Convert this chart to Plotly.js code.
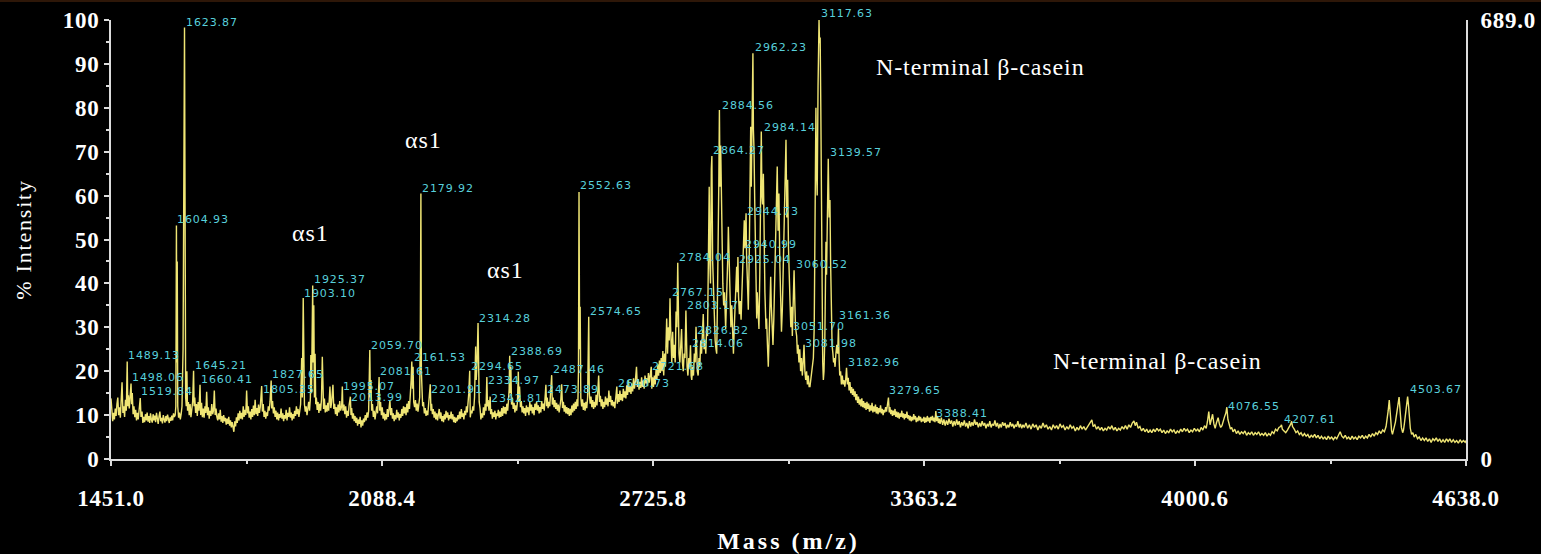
<!DOCTYPE html>
<html>
<head>
<meta charset="utf-8">
<script src="https://cdn.plot.ly/plotly-3.0.1.min.js"></script>
<style>
  html, body { margin: 0; padding: 0; background: #000; }
  #chart { width: 1541px; height: 554px; }
  .xtick text, .ytick text, .y2tick text { letter-spacing: 0.7px; }
  .xtitle { letter-spacing: 3px; }
  .ytitle { letter-spacing: 1.8px; }
  .annotation-text { letter-spacing: 0.9px; }
</style>
</head>
<body>
<div id="chart"></div>
<script>
// ---- Spectrum: [mass (m/z), % intensity] ----
const regionLow = [[1451,13.8],[1453,11],[1455,8.6],[1457,10.5],[1459,9],[1461,11.5],[1463,9.8],[1465,12.5],[1467,14],[1469,10],[1471,11.8],[1473,9.4],[1475,13],[1477,17.5],[1479,10.5],[1481,12],[1483,9.6],[1485,13.5],[1487,11],[1489.1,22.2],[1490.5,12],[1492,14.5],[1494,11.5],[1496,13.8],[1498.1,17.2],[1499.5,12.5],[1501,15],[1503,10.2],[1505,12],[1507,9.5],[1509,11.2],[1511,8.8],[1513,10.5],[1515,9],[1517,11],[1519.8,13.9],[1521.5,9.6],[1524,10.8],[1526,8.2],[1528,9.6],[1530,8.4],[1532,10.2],[1534,8.8],[1536,10.6],[1538,8.5],[1540,9.8],[1542,8.2],[1544,10.4],[1546,9],[1548,8.3],[1550,10.2],[1552,8.8],[1554,9.9],[1556,8.4],[1558,10.5],[1560,9.2],[1562,8],[1564,9.7],[1566,10.8],[1568,8.6],[1570,9.4],[1572,8.1],[1574,10],[1576,9],[1578,8.3],[1580,9.8],[1582,8.6],[1584,10.1],[1586,9],[1588,8.2],[1590,9.5],[1592,8.7],[1594,9.9],[1596,8.8],[1598,10.4],[1600,9.6],[1602,10],[1603.5,12],[1604.9,53.2],[1605.8,22],[1606.8,45],[1608,12],[1610,9.4],[1612,10.6],[1614,9],[1616,10.2],[1618,12],[1619.5,20],[1620.5,25],[1623.9,98.3],[1624.8,40],[1625.6,70.5],[1626.6,14],[1628,12],[1629.5,20],[1631,11],[1633,13],[1635,10],[1637,12.5],[1639,9.5],[1641,11.8],[1643,13],[1645.2,20.1],[1646.5,12],[1648,14],[1650,10.5],[1652,12.5],[1654,9.8],[1656,13],[1658,11],[1660.4,16.9],[1662,10],[1664,12.8],[1666,9.5],[1668,11.5],[1670,9.4],[1672,12],[1674,10.5],[1676,15.3],[1678,10],[1680,11.8],[1682,9.2],[1684,11],[1686,9.8],[1688,12.5],[1690,10.2],[1692,11],[1694,15.6],[1696,10],[1698,11.5],[1700,9.6]];

const regionAlphaA = [[1702,8.8],[1704,10.4],[1706,9],[1708,11.2],[1710,8.5],[1712,9.8],[1714,8.2],[1716,10],[1718,8.6],[1720,9.4],[1722,7.8],[1724,9.2],[1726,8],[1728,9.6],[1730,7.6],[1732,8.8],[1734,7.2],[1736,8.4],[1738,6.8],[1740,6.2],[1742,8.6],[1744,7.4],[1746,9.5],[1748,8.2],[1750,10.4],[1752,8.8],[1754,11],[1756,9.2],[1758,10.5],[1760,9],[1762,12],[1764,9.6],[1766,11.2],[1768,10],[1770,15.6],[1772,10.4],[1774,12],[1776,9.4],[1778,10.8],[1780,9],[1782,11.4],[1784,9.6],[1786,12.2],[1788,10],[1790,13.5],[1792,10.2],[1794,11.6],[1796,9.8],[1798,12.4],[1800,10.5],[1802,11.8],[1805.4,16.6],[1807,10.8],[1809,12.5],[1811,9.6],[1813,11],[1815,9.2],[1817,10.6],[1819,9.8],[1821,12],[1823,11],[1825,13],[1827.7,17.9],[1829,11.5],[1831,13.2],[1833,10.4],[1835,11.8],[1837,9.6],[1839,11],[1841,9],[1843,10.6],[1845,8.8],[1847,10.2],[1849,9.4],[1851,11.5],[1853,9.2],[1855,10.4],[1857,8.6],[1859,10],[1861,9.2],[1863,11.2],[1865,8.8],[1867,10.5],[1869,9.6],[1871,11.8],[1873,9.4],[1875,10.6],[1877,8.8],[1879,10.2],[1881,9.2],[1883,11],[1885,9.8],[1887,12],[1889,10.2],[1891,11.4],[1893,9.6],[1895,11],[1897,12.5],[1899.5,23],[1901,14],[1903.1,36.7],[1904.5,15],[1906,12.4],[1908,10.8],[1910,12],[1912,10],[1914,11.4],[1916,13],[1918,11],[1920,14],[1921,23.7],[1922.5,15],[1925.4,39.5],[1926.5,22],[1928,35],[1929.5,14],[1931,24],[1932.5,12.5],[1934,14],[1936,11.2],[1938,13],[1940,10.5],[1942,12.6],[1944,11],[1946,13.5],[1948,23.3],[1949.5,13],[1951,11.4],[1953,13.8],[1955,10.6],[1957,12.2],[1959,10.8],[1961,12.8],[1963,11],[1966,16.5],[1968,11.6],[1970,13],[1973,16.9],[1975,11.4],[1977,12.6],[1979,10.2],[1981,11.8],[1983,9.8],[1985,12.4],[1987,10.6],[1989,13.2],[1991,11],[1993.5,12],[1995.1,16.5],[1996.5,11],[1999,12.4]];

const regionAlphaB = [[2001,10.2],[2003,12],[2005,9.4],[2007,11],[2009,9.8],[2011,12.2],[2014,14.2],[2015.5,10],[2017,11.6],[2019,9.2],[2021,10.4],[2023,8.6],[2025,9.8],[2027,8.2],[2029,9.4],[2031,7.6],[2033,9],[2035,8],[2037,9.6],[2039,7.2],[2041,8.8],[2043,7.6],[2045,9.2],[2047,8.4],[2049,10],[2051,8.8],[2053,10.6],[2055,9.4],[2057,11],[2059.7,24.8],[2061,14],[2062.5,18],[2064,11],[2066,12.5],[2068,9.6],[2070,11],[2072,9],[2074,10.6],[2076,12],[2078,10.4],[2081.6,18.7],[2083,11],[2085,13],[2087,10],[2089,11.8],[2091,9.2],[2093,10.6],[2095,8.8],[2097,10.2],[2099,9],[2101,11.4],[2103,9.6],[2105,11],[2107,13.4],[2109,10],[2111,11.6],[2113,9.2],[2115,10.4],[2117,8.6],[2119,10],[2121,9],[2123,11.2],[2125,9.4],[2127,10.6],[2129,8.8],[2131,10.2],[2133,9.4],[2135,11.4],[2137,9.8],[2139,12],[2141,10.4],[2143,11.8],[2145,10],[2147,12.6],[2149,10.6],[2151,13.2],[2153,11.4],[2155,14],[2157,18],[2158.5,22.2],[2160,16],[2161.5,21],[2163,13],[2165,11.8],[2167,13.4],[2169,11],[2171,12.6],[2173,10.8],[2175,12],[2177,14],[2178.6,30],[2179.9,60.5],[2181,20],[2182.5,15],[2184,12],[2186,13],[2188,10.4],[2190,11.6],[2192,9.8],[2194,11],[2196,10],[2198,12.4],[2201.9,17],[2203.5,11],[2205,12.6],[2207,10.2],[2209,11.4],[2211,9.4],[2213,10.8],[2215,9],[2217,10.4],[2219,8.8],[2221,10],[2223,11.4],[2225,9.2],[2227,10.6],[2229,8.6],[2231,9.8],[2233,8.4],[2235,10.2],[2237,9],[2239,11],[2241,9.4],[2243,10.6],[2245,8.8],[2247,10],[2249,9.2],[2251,10.8],[2253,9],[2255,10.2],[2257,8.4],[2259,9.6],[2261,8.2],[2263,9.4],[2265,8.6],[2267,10],[2269,9],[2271,10.8],[2273,9.2],[2275,11.4],[2277,9.6],[2279,10.4],[2281,9],[2283,11],[2285,10],[2287,12],[2289,10.6],[2291,13],[2292.5,15],[2294.7,20.1],[2296,9.5],[2298,11],[2300,10.4]];

const regionAlphaC = [[2302,12],[2304,11],[2306,14],[2308.7,25.6],[2310,18],[2312,22],[2314.3,31],[2315.5,23.6],[2317,13],[2319,11.6],[2321,9],[2323,10.4],[2325,9.4],[2327,11.8],[2329,10],[2331,12.6],[2333,11],[2335,18.7],[2336.5,12],[2338,13.4],[2340,11],[2342.8,14.2],[2344,10.2],[2346,11.4],[2348,9.2],[2350,10.6],[2352,9.6],[2354,11],[2356,9],[2358,10.4],[2360,9.8],[2362,11.2],[2364,9.4],[2366,10.8],[2368,9.6],[2370,11.6],[2372,9.8],[2374,12],[2376,10.4],[2378,11.8],[2380,10.2],[2382,12.6],[2384,11],[2386,13.5],[2387.5,16],[2388.7,23.5],[2390,15],[2391.5,21],[2393,12.4],[2395,14],[2397,11.4],[2399,12.8],[2401,10.6],[2403,12.2],[2405,11],[2407,13],[2409,19.9],[2410.5,13],[2412,16.5],[2414,11.8],[2416,13.2],[2418,10.6],[2420,12],[2422,10.4],[2424,11.6],[2426,9.8],[2428,12.2],[2430,10.6],[2432,11.8],[2434,10],[2436,13],[2438,11],[2440,12.4],[2442,10.4],[2444,11.8],[2446,10],[2448,12.6],[2450,11.2],[2452,13],[2454,11],[2456,12.2],[2458,10.4],[2460,11.8],[2462,10.6],[2464,13.2],[2466,11.4],[2468,12.6],[2470,11],[2472,13.4],[2473.9,16.9],[2475.5,12],[2477,14],[2479,11.6],[2481,13],[2483,12],[2485,15],[2487.5,19.1],[2489,12.4],[2491,14],[2493,11.8],[2495,13.4],[2497,11.4],[2499,12.8],[2501,11],[2503,12.4],[2505,10.6],[2507,12],[2509,13.5],[2511,17],[2513,11.6],[2515,13],[2517,10.8],[2519,12.2],[2521,10.4],[2523,11.8],[2525,10.2],[2527,11.6],[2529,9.8],[2531,11.4],[2533,10],[2535,12.2],[2537,10.6],[2539,12.6],[2541,11],[2543,13],[2545,11.4],[2547,13.6],[2549,12]];

const regionRise = [[2550.5,20],[2551.8,60.8],[2553.2,25],[2554.5,34.7],[2556,14],[2558,12],[2560,13.6],[2562,11.2],[2564,12.8],[2566,11],[2568,13],[2570,11.6],[2572,14],[2574.6,32.4],[2576,15],[2578,12.6],[2580,14.2],[2582,11.8],[2584,13.4],[2586,11.4],[2588,13],[2590,11.8],[2592,14.6],[2594,12.2],[2596,15.4],[2598,19],[2600,13],[2602,14.4],[2604,12],[2606,13.6],[2608,11.4],[2610,13],[2612,11.8],[2614,14.2],[2616,12.4],[2618,13.8],[2620,12],[2622,15.6],[2624,13],[2626,14.4],[2628,12.2],[2630,13.4],[2632,12],[2634,13],[2636,11.6],[2638,13.8],[2640.7,16.5],[2642,12.6],[2644,14.8],[2646,13],[2648,15.6],[2650,13.4],[2652,14.8],[2654,13.2],[2656,16],[2658,14],[2660,15.4],[2662,13.8],[2664,16.8],[2666,14.6],[2668,18],[2670,15.2],[2672,16.6],[2674,14.8],[2676,17.2],[2678,15.4],[2680,18.4],[2682,16],[2684,17.4],[2687,21],[2689,16.4],[2691,18.2],[2693,15.8],[2695,17.6],[2697,16.2],[2699,18.6],[2701,16.4],[2703,17.8],[2705,16],[2707,19],[2709,17.2],[2711,18.4],[2713,16.6],[2715,19.6],[2717,17.4],[2719,18.8],[2721.7,21],[2723,16],[2725,18.6],[2727,16.4],[2729,19],[2731,17],[2733,20.4],[2735,18.2],[2737,21.6],[2739,19],[2741,22.4],[2743,19.6],[2745,23],[2747,20],[2749,24.6]];

const regionBetaCluster = [[2751,19],[2753,24],[2755,21],[2757,28],[2758,32],[2760,24],[2762,30],[2764,27],[2765.8,36.6],[2767.2,30],[2768.5,24],[2770,22],[2772,29],[2774,23],[2776,26],[2778,22],[2780,33.6],[2782,30],[2784,44.7],[2785.5,30],[2787,24],[2789,22],[2791,25],[2793,29.6],[2795,22],[2797,20],[2799,24],[2801,23],[2803.2,33.8],[2804.5,24],[2806,21],[2808,19],[2810,23],[2812,21],[2814,25.9],[2815.5,19],[2817,18],[2819,21],[2821,19],[2823,24],[2825,22],[2827,30.1],[2828.5,24],[2830,20],[2832,19],[2834,23],[2836,21],[2838,27],[2840,24],[2842,29],[2844,33],[2846,25],[2848,27],[2850,24],[2852,30],[2854,28],[2856,40],[2858,62],[2859.5,45],[2861,40],[2863,66],[2864.3,69],[2866,45.3],[2868,38],[2870,31],[2872,27],[2874,25],[2875.6,24],[2877,33],[2879,45],[2880.5,62],[2882,79.5],[2883.5,62],[2885,71.4],[2886.5,60],[2888,51.4],[2890,40],[2892,35],[2894,38],[2896.7,29.6],[2898,33],[2900,40],[2902,47],[2903,52.9],[2905,44],[2907,34],[2909,30],[2911,35],[2913,28],[2915,24],[2917,30],[2919,35],[2921,40],[2922.6,43.8],[2924,38],[2925.5,46],[2927,37],[2929,33],[2931,36],[2933,31.7],[2935,38],[2937,44],[2939,50],[2940.5,54.4],[2942,48],[2944.7,56],[2946,46],[2948,38],[2950,34],[2952,45],[2954,60],[2955.6,75.7],[2957,62],[2959,80],[2960.8,92.4],[2962,75],[2963.5,70],[2965,59],[2967,45],[2969.7,32],[2971,38],[2973,35],[2975,29.6],[2977,42],[2979,60],[2980.5,74.6],[2982,60],[2983.5,58],[2985.4,65],[2987,48],[2989,38],[2991.6,29.6],[2993,32],[2995,26],[2997,21],[2999,28],[3001,35],[3002.6,41.5],[3004,35],[3006,30],[3008,26],[3010,32],[3012,40],[3014,50],[3016,58],[3018,66.6],[3020,52],[3022,60.5],[3024,45],[3026,36],[3028,29],[3030,34],[3032,42],[3034,50],[3036,60],[3038.6,72.7],[3040.5,55],[3042.5,63.6],[3044.5,48],[3046,40],[3048,36],[3050,30],[3052,34.7],[3053.5,28],[3055.5,36],[3057.6,43],[3059.5,35],[3061,30],[3063.7,28],[3065.5,24],[3067,26],[3069,22],[3071,25],[3073,20],[3075,23],[3077,19],[3079,22],[3081,26],[3083,20],[3085,18],[3087,20],[3089,17],[3091,19],[3093,16.5],[3095,16.5],[3097,18],[3099,20],[3101,21],[3103,23],[3105,30],[3107,50],[3109,80],[3110.5,65],[3112,60],[3114,85],[3116.3,100],[3117.5,94.7],[3119,96],[3120.5,80],[3122,58],[3123.5,35],[3125,22],[3126.5,18],[3128,20],[3130,28],[3132.6,49.5],[3134,42],[3136,58],[3138,68.4],[3140,55],[3142,59],[3143.5,45],[3145,31],[3147,26],[3149,24],[3150.5,22],[3152,23],[3154,21],[3156,24],[3158,26],[3160,24],[3162,29.7],[3163.5,23],[3165,19],[3167,20],[3169,17],[3171,19],[3173,17],[3175,18],[3177,16.5],[3179,18],[3181,20.8],[3183,17],[3185,18.5],[3187,15.6],[3189,17.5],[3191,15],[3193,16.4],[3195,14.6],[3197,16],[3199,14.2]];

const regionDecay = [[3201,15.4],[3203,13.4],[3205,14.8],[3207,12.8],[3209,14.2],[3211,12.4],[3213,13.6],[3215,12],[3217,13.8],[3219,11.8],[3221,13.2],[3223,11.6],[3225,12.8],[3227,11.2],[3229,13],[3231,11.4],[3233,12.6],[3235,10.8],[3237,12.2],[3239,11],[3241,12.8],[3243,10.6],[3245,12],[3247,10.8],[3249,12.4],[3251,10.4],[3253,11.8],[3255,10.2],[3257,11.6],[3259,10.6],[3261,12.2],[3263,10.4],[3265,11.4],[3267,10],[3269,11.2],[3271,10.6],[3273,11.8],[3275,10.8],[3277,12.2],[3279.6,14],[3281.5,10.6],[3283,11.8],[3285,10.2],[3287,11.2],[3289,9.8],[3291,11],[3293,10],[3295,11.4],[3297,9.6],[3299,10.8],[3301,9.4],[3303,10.6],[3305,9.2],[3307,10.4],[3309,9.6],[3311,11],[3313,9.4],[3315,10.4],[3317,9],[3319,10.2],[3321,9.4],[3323,10.8],[3325,9.2],[3327,10],[3329,8.8],[3331,9.8],[3333,8.6],[3335,9.6],[3337,8.8],[3339,10.2],[3341,9],[3343,9.8],[3345,8.4],[3347,9.4],[3349,8.6],[3351,9.8],[3353,8.8],[3355,9.6],[3357,8.4],[3359,9.2],[3361,8.6],[3363,9.6],[3365,8.2],[3367,9.4],[3369,8.4],[3371,9.8],[3373,8.6],[3375,9.4],[3377,8.2],[3379,9.6],[3381,8.8],[3383,9.8],[3385,8.6],[3387,9.4],[3389,8.4],[3391,10.9],[3393,8.6],[3395,9.8],[3397,8.2],[3399,9.2],[3401,8],[3404,9.4],[3407,7.8],[3410,9],[3413,7.6],[3416,8.8],[3419,7.8],[3422,9.2],[3425,8],[3428,8.8],[3431,7.4],[3434,8.6],[3437,7.6],[3440,9],[3443,7.8],[3446,8.6],[3449,7.2],[3452,8.4],[3455,7.6],[3458,8.8],[3461,7.4],[3464,8.2],[3467,7],[3470,8.6],[3473,7.4],[3476,8.4],[3479,7.6],[3482,9],[3485,7.8],[3488,8.4],[3491,7.2],[3494,8.2],[3497,7.4],[3500,8.6],[3503,7.6],[3506,8.2],[3509,7],[3512,8],[3515,7.4],[3518,8.6],[3521,7.2],[3524,8],[3527,7.6],[3530,8.8],[3533,7.4],[3536,8.2],[3539,7],[3542,8],[3545,7.2],[3548,8.4],[3551,7.6],[3554,8.2],[3557,7],[3560,7.8],[3563,7.2],[3566,8.4],[3569,7.4],[3572,8],[3575,7],[3578,7.8],[3581,7.4],[3584,8.6],[3587,7.2],[3590,8],[3593,7],[3596,7.8],[3599,7.2]];

const regionTailA = [[3603,8.2],[3607,7],[3611,7.8],[3615,6.8],[3619,8],[3623,7.2],[3627,7.8],[3631,6.6],[3635,7.6],[3639,7],[3643,8.2],[3647,7.2],[3651,7.8],[3655,6.8],[3659,7.4],[3663,6.6],[3667,7.8],[3671,7],[3675,7.6],[3679,6.8],[3683,8],[3687,7.2],[3691,7.6],[3695,6.6],[3699,7.4],[3703,6.8],[3707,7.8],[3711,7],[3715,7.4],[3719,6.4],[3723,7.2],[3727,6.6],[3731,7.6],[3735,6.8],[3739,7.4],[3743,6.6],[3747,7.2],[3751,7.8],[3755,8.4],[3758,8.9],[3761,7.4],[3765,7.8],[3769,6.8],[3773,7.4],[3777,6.6],[3781,7.2],[3785,6.4],[3789,7],[3793,6.6],[3797,7.4],[3801,6.8],[3805,7.6],[3809,6.6],[3813,7.2],[3817,6.4],[3821,7],[3825,6.6],[3829,7.4],[3833,6.8],[3837,7.6],[3841,6.8],[3845,7.8],[3849,7.2],[3853,8.2],[3857,8.7],[3860,7.6],[3863,8.4],[3867,7],[3871,7.4],[3875,6.4],[3879,7],[3883,6.2],[3887,6.8],[3891,6],[3895,6.6],[3899,6],[3903,6.8],[3907,6.2],[3911,7],[3915,6.4],[3919,6.8],[3923,6],[3927,6.6],[3931,5.8],[3935,6.4],[3939,6],[3943,6.8],[3947,6.2],[3951,6.6],[3955,5.8],[3959,6.4],[3963,6],[3967,6.8],[3971,6.2],[3975,7],[3979,6.4],[3983,6.8],[3987,6],[3991,6.6],[3995,6.2],[3999,7],[4003,6.4],[4007,6.8],[4011,6.2],[4015,7.2],[4019,6.6],[4023,7.6],[4027,7],[4030,8.6],[4033,10.8],[4036,7.8],[4039,9.4],[4042,10.2],[4045,8],[4048,7],[4051,8.2],[4055,9.4],[4058,8],[4061,7.2],[4064,7.6],[4067,8.8],[4070,9.6],[4073,10.4],[4075.5,11.8],[4078,9],[4081,7.6],[4084,6.8],[4087,7.2],[4090,6.2],[4094,6.8],[4098,5.8],[4102,6.4],[4106,5.6],[4110,6.2],[4114,5.8],[4118,6.4],[4122,5.4],[4126,6],[4130,5.6],[4134,6.2],[4138,5.4],[4142,6],[4146,5.6],[4150,6.2],[4154,5.4],[4158,5.8],[4162,5.4],[4166,6],[4170,5.2],[4174,5.8],[4178,5.4],[4182,6.2],[4186,5.8],[4190,6.8],[4194,6.4],[4198,7.2]];

const regionTailB = [[4202,7.4],[4204,7.8],[4206,6.8],[4210,6.4],[4214,6],[4218,6.6],[4222,7.2],[4226,8],[4228,8.6],[4230,7.4],[4234,6.8],[4238,6],[4242,6.4],[4246,5.6],[4250,6],[4254,5.2],[4258,5.8],[4262,5.2],[4266,5.6],[4270,4.8],[4274,5.4],[4278,5],[4282,5.6],[4286,4.8],[4290,5.4],[4294,4.6],[4298,5.2],[4302,4.6],[4306,5],[4310,4.4],[4314,5.2],[4318,4.6],[4322,5],[4326,4.4],[4330,5],[4334,4.6],[4338,5.4],[4342,6.2],[4346,5.2],[4350,4.8],[4354,5.4],[4358,4.6],[4362,5],[4366,4.4],[4370,5.2],[4374,4.6],[4378,5],[4382,4.4],[4386,5.2],[4390,4.8],[4394,5.4],[4398,4.6],[4402,5.2],[4406,4.8],[4410,5.6],[4414,5],[4418,5.8],[4422,5.2],[4426,6],[4430,5.6],[4434,6.4],[4438,5.8],[4442,6.6],[4446,6.2],[4450,7.4],[4453,9],[4455,11],[4457.5,13.4],[4460,9],[4463,6.4],[4465,5.6],[4467,6.2],[4470,7.6],[4472,8.4],[4475,10.6],[4478,12.5],[4480.6,14.1],[4483,11],[4486,7.2],[4489,6],[4491,6.6],[4493,8],[4495,9.6],[4497,12],[4500.7,14.2],[4503,12],[4505,9],[4507,7],[4510,5.6],[4513,6],[4516,5],[4520,5.6],[4524,4.6],[4528,5],[4532,4.2],[4536,4.8],[4540,4.2],[4544,4.8],[4548,4],[4552,4.6],[4556,3.8],[4560,4.6],[4564,4.2],[4568,4.8],[4572,4],[4576,4.6],[4580,3.8],[4584,4.4],[4588,3.8],[4592,4.6],[4596,4],[4600,4.6],[4604,3.8],[4608,4.4],[4612,3.8],[4616,4.2],[4620,3.6],[4624,4.4],[4628,3.8],[4632,4.2],[4636,3.8],[4638,4.2]];

// ---- Peak labels (m/z text) and the % height at which each label sits ----
const peakLabels = ['1489.13','1498.06','1519.84','1604.93','1623.87','1645.21','1660.41','1805.35','1827.65','1903.10','1925.37','1995.07','2013.99','2059.70','2081.61','2161.53','2179.92','2201.91','2294.65','2314.28','2334.97','2342.81','2388.69','2473.89','2487.46','2552.63','2574.65','2640.73','2721.68','2767.15','2784.04','2803.17','2814.06','2826.82','2864.27','2884.56','2925.04','2940.99','2944.73','2962.23','2984.14','3051.70','3060.52','3081.98','3117.63','3139.57','3161.36','3182.96','3279.65','3388.41','4076.55','4207.61','4503.67'];
const peakLabelPct = [23.6,18.5,15.3,54.5,99.5,21.3,18.1,15.8,19.2,37.8,40.8,16.6,13.9,25.9,20,23.2,61.7,15.9,21.1,32.1,17.9,13.7,24.6,15.9,20.4,62.3,33.7,17.3,21.1,38,46,35,26.2,29.3,70.3,80.5,45.4,48.9,56.3,93.8,75.6,30.2,44.2,26.2,101.4,69.9,32.7,21.9,15.6,10.3,12,9,15.8];

// ---- Region captions ----
const captionText = ['\u03b1s1','\u03b1s1','\u03b1s1','N-terminal \u03b2-casein','N-terminal \u03b2-casein'];
const captionMass = [1921, 2187, 2380, 3496, 3912];
const captionPct = [51.5, 72.7, 43.0, 89.3, 22.3];

// ---- Axis ticks ----
const massTicks = [1451.0, 2088.4, 2725.8, 3363.2, 4000.6, 4638.0];
const massTickText = ['1451.0','2088.4','2725.8','3363.2','4000.6','4638.0'];
const massMinorTicks = [1769.7, 2407.1, 3044.5, 3681.9, 4319.3];
const countsMax = 689.0;

const spectrum = [].concat(regionLow, regionAlphaA, regionAlphaB, regionAlphaC, regionRise, regionBetaCluster, regionDecay, regionTailA, regionTailB);
const mz = spectrum.map(p => p[0]);
const pct = spectrum.map(p => p[1]);

const serif = 'Liberation Serif, Times New Roman, serif';
const axisColor = '#dcdcdc';
const plotHeightPx = 439;

const traces = [{
  type: 'scatter', mode: 'lines', x: mz, y: pct,
  line: {color: '#efe574', width: 1.4},
  hoverinfo: 'skip', showlegend: false
}, {
  // empty trace so that the right-hand (absolute counts) axis is drawn
  type: 'scatter', mode: 'lines', x: [], y: [], yaxis: 'y2',
  hoverinfo: 'skip', showlegend: false
}];

const annotations = [];
peakLabels.forEach((t, i) => {
  const v = peakLabelPct[i];
  const inRange = Math.min(v, 100);
  annotations.push({
    x: parseFloat(t), y: inRange, yshift: (v - inRange) * plotHeightPx / 100,
    xref: 'x', yref: 'y',
    text: t, showarrow: false, xanchor: 'left', yanchor: 'middle', borderpad: 0,
    font: {family: 'DejaVu Sans, Arial, sans-serif', size: 11, color: '#58d0dc'}
  });
});
captionText.forEach((t, i) => {
  annotations.push({
    x: captionMass[i], y: captionPct[i], xref: 'x', yref: 'y',
    text: t, showarrow: false, xanchor: 'center', yanchor: 'middle', borderpad: 0,
    font: {family: serif, size: 24, color: '#ffffff'}
  });
});

const layout = {
  width: 1541, height: 554,
  paper_bgcolor: '#000000', plot_bgcolor: '#000000',
  margin: {l: 111, r: 75, t: 20, b: 95},
  showlegend: false,
  xaxis: {
    range: [1451, 4638], tickmode: 'array', tickvals: massTicks, ticktext: massTickText,
    ticks: 'outside', ticklen: 5, tickwidth: 2, tickcolor: axisColor,
    minor: {tickvals: massMinorTicks, ticks: 'outside', ticklen: 3, tickwidth: 2, tickcolor: axisColor},
    showline: true, linecolor: axisColor, linewidth: 2, showgrid: false, zeroline: false,
    ticklabelstandoff: 12,
    tickfont: {family: serif, size: 23, color: '#ffffff', weight: 'bold'},
    title: {text: 'Mass (m/z)', standoff: 26, font: {family: serif, size: 24, color: '#ffffff', weight: 'bold'}},
    automargin: false
  },
  yaxis: {
    range: [0, 100], tickmode: 'linear', tick0: 0, dtick: 10,
    ticks: 'outside', ticklen: 5, tickwidth: 2, tickcolor: axisColor,
    minor: {dtick: 5, ticks: 'outside', ticklen: 3, tickwidth: 2, tickcolor: axisColor},
    showline: true, linecolor: axisColor, linewidth: 2, showgrid: false, zeroline: false,
    ticklabelstandoff: 0,
    tickfont: {family: serif, size: 23, color: '#ffffff', weight: 'bold'},
    title: {text: '% Intensity', standoff: 25, font: {family: serif, size: 22, color: '#ffffff'}},
    automargin: false
  },
  yaxis2: {
    overlaying: 'y', side: 'right', range: [0, countsMax], anchor: 'x',
    tickmode: 'array', tickvals: [0, countsMax], ticktext: ['0', countsMax.toFixed(1)],
    ticks: 'inside', ticklen: 5, tickwidth: 2, tickcolor: axisColor,
    showline: true, linecolor: axisColor, linewidth: 2, showgrid: false, zeroline: false,
    ticklabelstandoff: 8,
    tickfont: {family: serif, size: 23, color: '#ffffff', weight: 'bold'},
    automargin: false
  },
  annotations: annotations,
  shapes: [{type: 'rect', xref: 'paper', yref: 'paper', x0: -111/1355, x1: 1 + 75/1355,
            y0: 1 + 18/439, y1: 1 + 20/439, line: {width: 0}, fillcolor: '#2e1708'}]
};

Plotly.newPlot('chart', traces, layout, {staticPlot: true, displayModeBar: false});
</script>
</body>
</html>
